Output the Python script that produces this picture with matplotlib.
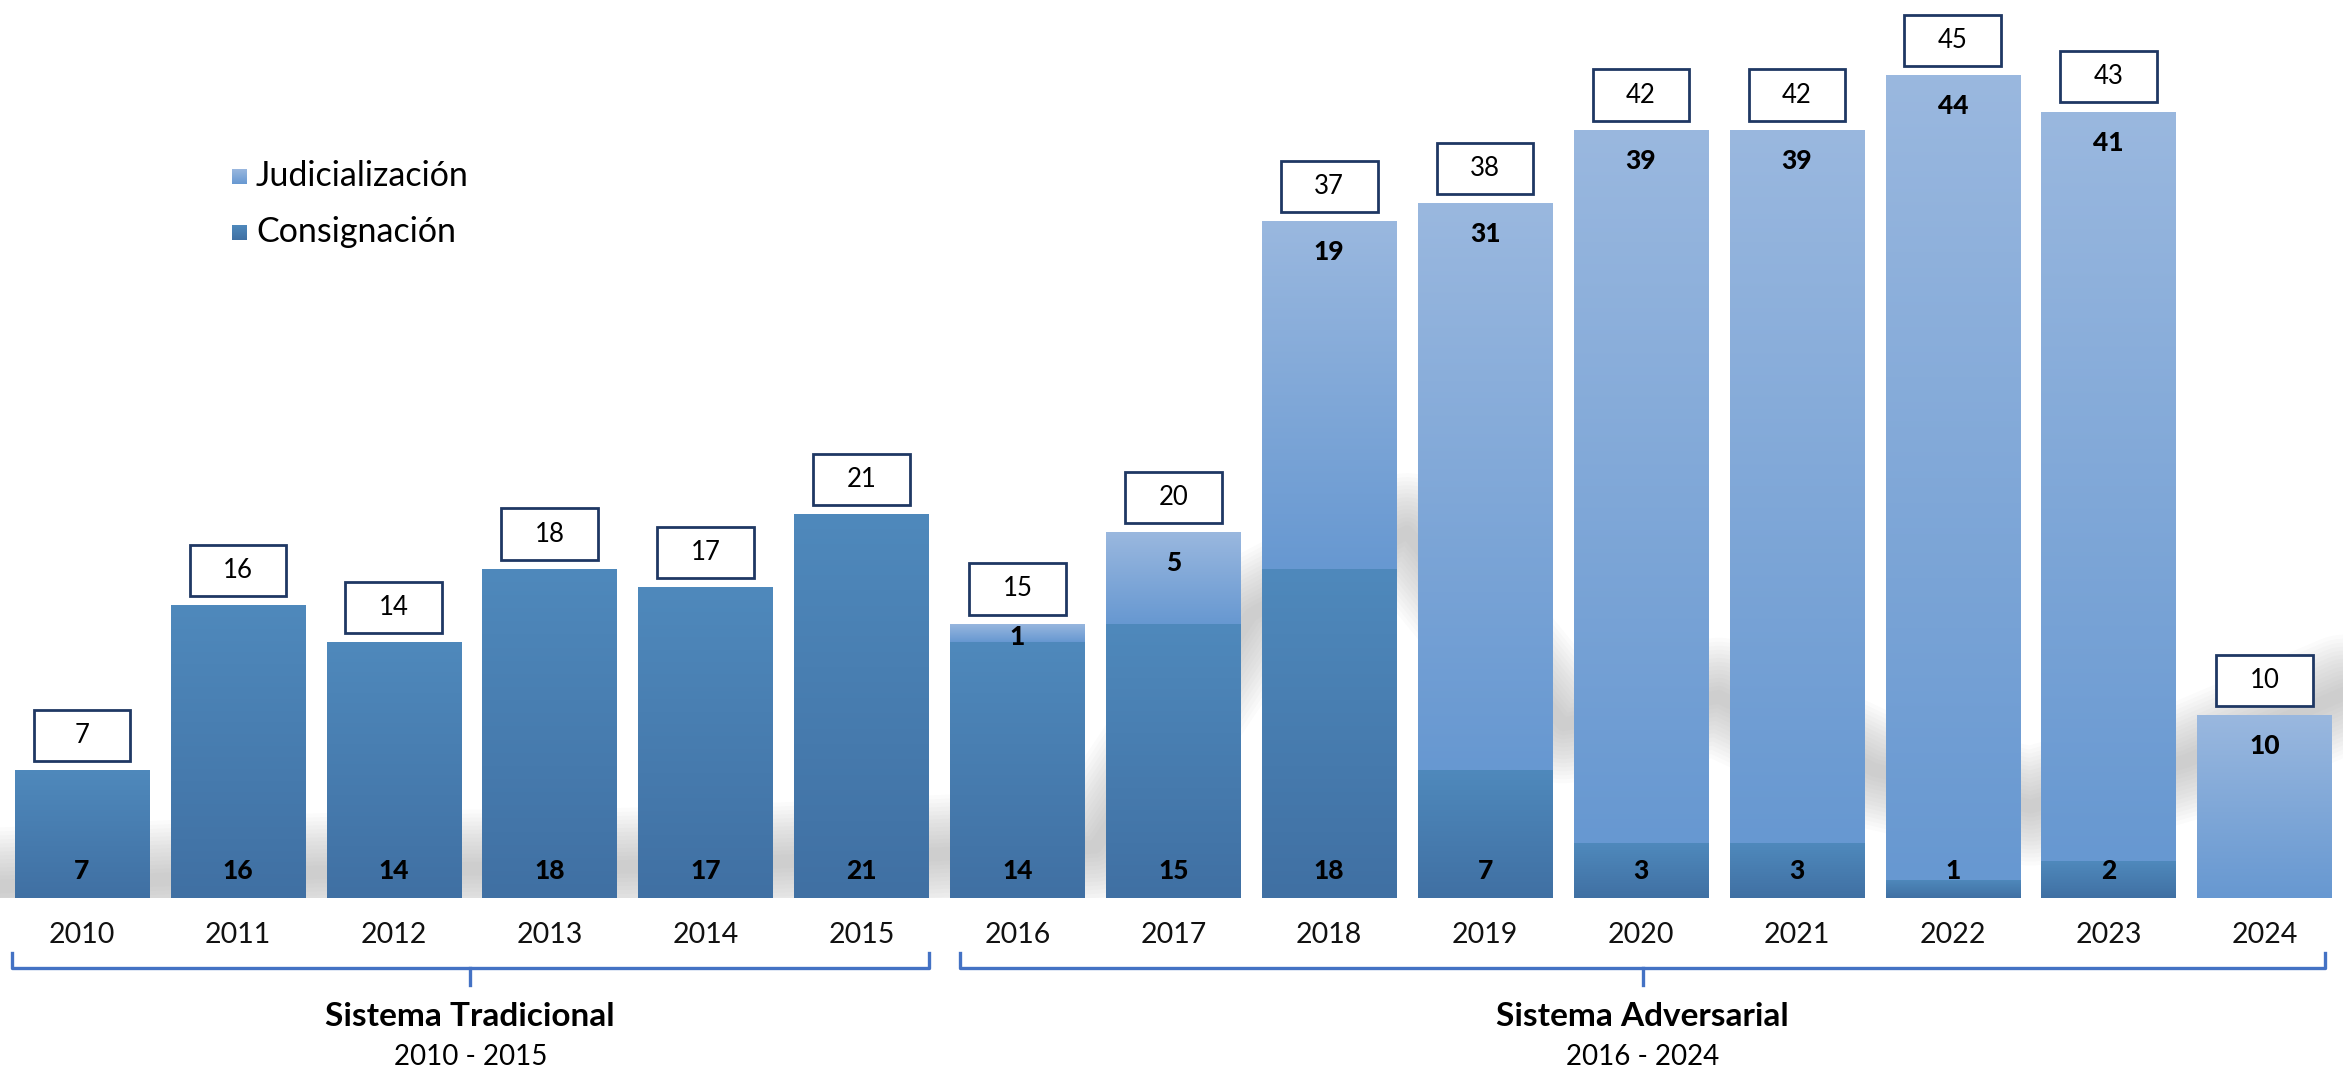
import numpy as np
import matplotlib
matplotlib.use("Agg")
import matplotlib.pyplot as plt
from matplotlib.colors import LinearSegmentedColormap
from matplotlib.patches import Rectangle

# ---- data ----
years = ["2010", "2011", "2012", "2013", "2014", "2015", "2016", "2017",
         "2018", "2019", "2020", "2021", "2022", "2023", "2024"]
consignacion = [7, 16, 14, 18, 17, 21, 14, 15, 18, 7, 3, 3, 1, 2, 0]
judicializacion = [0, 0, 0, 0, 0, 0, 1, 5, 19, 31, 39, 39, 44, 41, 10]
totals = [c + j for c, j in zip(consignacion, judicializacion)]
periods = [("Sistema Tradicional", "2010 - 2015", 0, 5),
           ("Sistema Adversarial", "2016 - 2024", 6, 14)]
# decorative shadow path (index, height)
shadow_x = [-0.6, 0.5, 1.5, 2.5, 3.5, 4.5, 5.5, 6.5, 7.5, 8.5, 9.5, 10.5, 11.5, 12.5, 13.5, 14.6]
shadow_y = [0.6, 1.0, 1.4, 1.6, 1.7, 2.0, 2.4, 2.8, 15.5, 20.0, 9.5, 11.0, 7.0, 5.0, 7.5, 11.5]

FONT = "Lato"
plt.rcParams['font.family'] = [FONT, 'DejaVu Sans']

W, H = 2343, 1071
fig = plt.figure(figsize=(W / 100, H / 100), dpi=100)
ax = fig.add_axes([0, (H - 898) / H, 1, 898 / H])
ax.set_xlim(-0.526, 14.503)
ax.set_ylim(0, 898 / 18.29)
ax.axis("off")

x = np.arange(len(years))
bw = 0.863

# shadow (blurred gray band)
for lw in np.linspace(85, 10, 14):
    ax.plot(shadow_x, shadow_y, color="#9a9a9a", lw=lw, alpha=0.04,
            solid_capstyle="round", solid_joinstyle="round", zorder=1)

cmap_c = LinearSegmentedColormap.from_list("c", ["#4070A3", "#4F89BC"])
cmap_j = LinearSegmentedColormap.from_list("j", ["#6798D1", "#9AB8DF"])
grad = np.linspace(0, 1, 256).reshape(-1, 1)

bars_c = ax.bar(x, consignacion, width=bw, color="#4A7FB2", edgecolor="none", zorder=2)
bars_j = ax.bar(x, judicializacion, width=bw, bottom=consignacion, color="#80A8D8",
                edgecolor="none", zorder=2)

for bars, cmap in ((bars_c, cmap_c), (bars_j, cmap_j)):
    for p in bars:
        h = p.get_height()
        if h <= 0:
            continue
        x0, y0, w = p.get_x(), p.get_y(), p.get_width()
        im = ax.imshow(grad, extent=[x0, x0 + w, y0, y0 + h], origin="lower",
                       aspect="auto", cmap=cmap, zorder=3, interpolation="bilinear")
        im.set_clip_path(p)

# segment labels
for i in range(len(years)):
    if consignacion[i] > 0:
        ax.text(x[i], 1.5, str(consignacion[i]), ha="center", va="center",
                fontsize=19, fontweight="black", color="black", zorder=5)
    if judicializacion[i] > 0:
        off = min(1.7, 0.75 * judicializacion[i])
        ax.text(x[i], totals[i] - off, str(judicializacion[i]), ha="center", va="center",
                fontsize=19, fontweight="black", color="black", zorder=5)

# total boxes
bx_w, bx_h = 0.62, 2.8
for i in range(len(years)):
    ax.add_patch(Rectangle((x[i] - bx_w / 2, totals[i] + 0.5), bx_w, bx_h,
                           facecolor="white", edgecolor="#1F3864", lw=2.0, zorder=6))
    ax.text(x[i], totals[i] + 0.5 + bx_h / 2, str(totals[i]), ha="center", va="center",
            fontsize=18.5, fontweight="normal", color="black", zorder=7)

# year labels
for i, yr in enumerate(years):
    ax.text(x[i], -2.02, yr, ha="center", va="center", fontsize=20.5,
            fontweight="normal", color="#111111", clip_on=False)

# brackets and period labels
bc = "#4472C4"
bracket_ranges = [(-0.45, 5.43), (5.63, 14.39)]
for (name, rng, a, b), (l, r) in zip(periods, bracket_ranges):
    yb = -3.83
    mid = (l + r) / 2
    ax.plot([l, l, r, r], [-3.0, yb, yb, -3.0], color=bc, lw=2.4,
            solid_joinstyle="round", clip_on=False)
    ax.plot([mid, mid], [yb, -4.75], color=bc, lw=2.4, clip_on=False)
    ax.text(mid, -6.5, name, ha="center", va="center", fontsize=24,
            fontweight="bold", color="black", clip_on=False)
    ax.text(mid, -8.7, rng, ha="center", va="center", fontsize=20,
            fontweight="normal", color="black", clip_on=False)

# legend
for label, cmap, yc in (("Judicialización", cmap_j, 176), ("Consignación", cmap_c, 232)):
    lax = fig.add_axes([232 / W, (H - yc - 8) / H, 15 / W, 15 / H])
    lax.imshow(grad, origin="lower", aspect="auto", cmap=cmap)
    lax.axis("off")
    fig.text(256 / W, (H - yc) / H, label, ha="left", va="center", fontsize=24.5,
             fontweight="normal", color="black")

fig.savefig("out.png", dpi=100, facecolor="white")
